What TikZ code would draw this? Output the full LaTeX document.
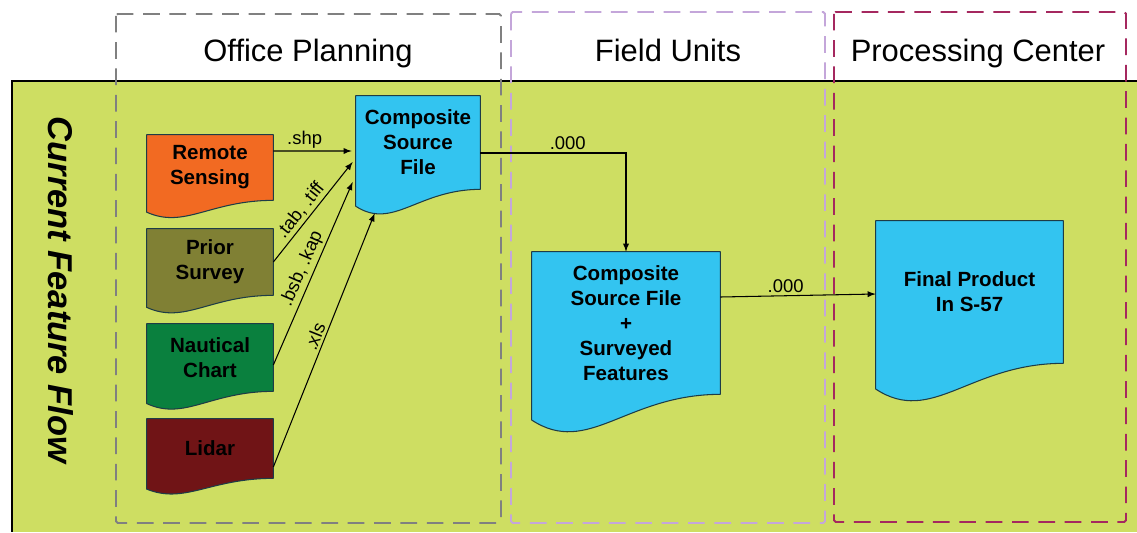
\documentclass[tikz,border=0pt]{standalone}
\usepackage{fontspec}
\setmainfont{Liberation Sans}
\usetikzlibrary{calc}
\usetikzlibrary{backgrounds}
\usepackage{xcolor}

\definecolor{panel}{RGB}{206,222,98}
\definecolor{remote}{RGB}{242,106,34}
\definecolor{prior}{RGB}{128,128,52}
\definecolor{chart}{RGB}{10,128,62}
\definecolor{lidar}{RGB}{112,20,22}
\definecolor{source}{RGB}{51,196,240}
\definecolor{docedge}{RGB}{30,60,70}
\definecolor{lanegray}{RGB}{128,128,128}
\definecolor{lanepurple}{RGB}{196,166,218}
\definecolor{lanered}{RGB}{165,40,95}

% document shape under a node: #1 node, #2 colour
\newcommand{\docshape}[2]{%
	\path[fill=#2, draw=docedge, line width=0.6pt, line join=round]
	let \p1=($(#1.north east)-(#1.south east)$) in
	(#1.north west) -- (#1.north east) -- (#1.south east)
	.. controls ($(#1.south east)!0.5!(#1.south west)$)
	and ($(#1.south east)!0.7!(#1.south west)+(0pt,-0.44*\y1)$)
	.. ($(#1.south west)+(0pt,-0.18*\y1)$) -- cycle;}

\begin{document}
\begin{tikzpicture}[x=0.02cm, y=-0.02cm,
	doc/.style={inner sep=0pt, align=center, font=\fontsize{11.7}{14.2}\selectfont\bfseries},
	lane/.style={line width=1.1pt, dash pattern=on 9.5pt off 5.5pt, rounded corners=1pt},
	head/.style={anchor=base, font=\fontsize{17.6}{20}\selectfont},
	lbl/.style={font=\fontsize{10.5}{12}\selectfont, inner sep=1.5pt},
	flow/.style={-latex, line width=0.6pt}]
	\useasboundingbox (0,0) rectangle (1137,532);

	\begin{scope}[on background layer]
	\fill[white] (0,0) rectangle (1137,532);
	\fill[panel] (12,81) rectangle (1137,532);
	\draw[line width=0.6pt] (1137,81) -- (12,81) -- (12,532);
	\draw[lane, lanegray] (116,14) rectangle (501,523);
	\draw[lane, lanepurple] (511,12) rectangle (825,523);
	\draw[lane, lanered] (834,12) rectangle (1126,522);
	\end{scope}

	\node[head] (office) at (308,61) {Office Planning};
	\node[head] (field) at (668,61) {Field Units};
	\node[head] (center) at (978,61) {Processing Center};
	\node[rotate=-90, font=\fontsize{19.6}{22}\selectfont\bfseries\itshape] (title) at (61,290) {Current Feature Flow};

	\node[doc, minimum width=2.52cm, minimum height=1.3cm] (rs) at (210,167.5) {Remote\\Sensing};
	\node[doc, minimum width=2.52cm, minimum height=1.32cm] (ps) at (210,262) {Prior\\Survey};
	\node[doc, minimum width=2.52cm, minimum height=1.34cm] (nc) at (210,357.5) {Nautical\\Chart};
	\node[doc, minimum width=2.52cm, minimum height=1.18cm] (li) at (210,448.5) {Lidar};
	\node[doc, minimum width=2.48cm, minimum height=1.86cm] (csf) at (418,142.5) {Composite\\Source\\File};
	\node[doc, minimum width=3.76cm, minimum height=2.84cm] (csfs) at (626,323) {Composite\\Source File\\+\\Surveyed\\Features};
	\node[doc, minimum width=3.74cm, minimum height=2.84cm] (fp) at (969.5,292) {Final Product\\In S-57};

	\begin{scope}[on background layer]
	\docshape{rs}{remote}
	\docshape{ps}{prior}
	\docshape{nc}{chart}
	\docshape{li}{lidar}
	\docshape{csf}{source}
	\docshape{csfs}{source}
	\docshape{fp}{source}
	\end{scope}

	\draw[flow] ($(rs.east)+(0,-16.5)$) -- node[lbl, pos=0.4, above]{.shp} ($(csf.west)+(-4,8.5)$);
	\draw[flow] (ps.east) -- node[lbl, pos=0.45, above, sloped]{.tab, .tiff} ($(csf.west)+(-3,19.5)$);
	\draw[flow] ($(nc.east)+(0,7.5)$) -- node[lbl, midway, above, sloped]{.bsb, .kap} ($(csf.west)+(-3,39.5)$);
	\draw[flow] ($(li.east)+(0,18.5)$) -- node[lbl, midway, above, sloped]{.xls} ($(csf.south west)+(19,24)$);
	\draw[flow] ($(csf.east)+(0,10.5)$) -| node[lbl, pos=0.3, above]{.000} (csfs.north);
	\draw[flow] ($(csfs.east)+(0,-26)$) -- node[lbl, pos=0.42, above]{.000} ($(fp.west)+(0,2)$);
\end{tikzpicture}
\end{document}
